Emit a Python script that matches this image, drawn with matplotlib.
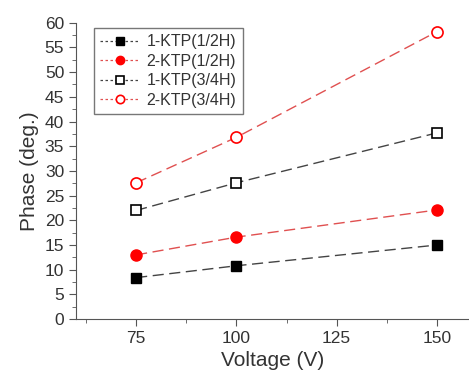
import numpy as np
import matplotlib.pyplot as plt
from matplotlib.ticker import MultipleLocator

plt.rcParams['font.family'] = ['Liberation Sans', 'DejaVu Sans']

voltage = [75, 100, 150]
ktp1_half = [8.4, 10.8, 15.0]
ktp2_half = [13.0, 16.6, 22.1]
ktp1_3q = [22.0, 27.6, 37.7]
ktp2_3q = [27.6, 36.8, 58.2]
labels = ['1-KTP(1/2H)', '2-KTP(1/2H)', '1-KTP(3/4H)', '2-KTP(3/4H)']

fig = plt.figure(figsize=(4.69, 3.79), dpi=100)
ax = fig.add_axes([0.162, 0.158, 0.838, 0.782])

dash = (0, (8, 4))
ax.plot(voltage, ktp1_half, ls=dash, color='#444444', lw=1, marker='s', ms=7,
        mfc='black', mec='black', label=labels[0])
ax.plot(voltage, ktp2_half, ls=dash, color='#e05050', lw=1, marker='o', ms=8,
        mfc='red', mec='red', label=labels[1])
ax.plot(voltage, ktp1_3q, ls=dash, color='#444444', lw=1, marker='s', ms=7,
        mfc='white', mec='black', mew=1.2, label=labels[2])
ax.plot(voltage, ktp2_3q, ls=dash, color='#e05050', lw=1, marker='o', ms=8,
        mfc='white', mec='red', mew=1.2, label=labels[3])

ax.set_xlim(60, 158)
ax.set_ylim(0, 60)
ax.set_xticks([75, 100, 125, 150])
ax.xaxis.set_minor_locator(MultipleLocator(12.5))
ax.yaxis.set_major_locator(MultipleLocator(5))
ax.yaxis.set_minor_locator(MultipleLocator(2.5))
for s in ['top', 'right']:
    ax.spines[s].set_visible(False)
for s in ['left', 'bottom']:
    ax.spines[s].set_color('#555555')
ax.tick_params(which='major', direction='out', length=5, color='#555555',
               labelsize=12.5, labelcolor='#333333')
ax.tick_params(which='minor', direction='out', length=3, color='#555555')
ax.set_xlabel('Voltage (V)', fontsize=15, color='#333333', labelpad=4)
ax.set_ylabel('Phase (deg.)', fontsize=15, color='#333333', labelpad=4)

leg = ax.legend(loc='upper left', bbox_to_anchor=(0.025, 1.01), fontsize=11.5,
                frameon=True, fancybox=False, edgecolor='#555555',
                handlelength=2.5, borderpad=0.4, labelspacing=0.28,
                handletextpad=0.4, markerscale=0.75)
leg.get_frame().set_linewidth(1)
for h in leg.get_lines():
    h.set_linestyle((0, (2, 2)))
    h.set_linewidth(0.9)
for t in leg.get_texts():
    t.set_color('#333333')

fig.savefig('out.png', dpi=100)
